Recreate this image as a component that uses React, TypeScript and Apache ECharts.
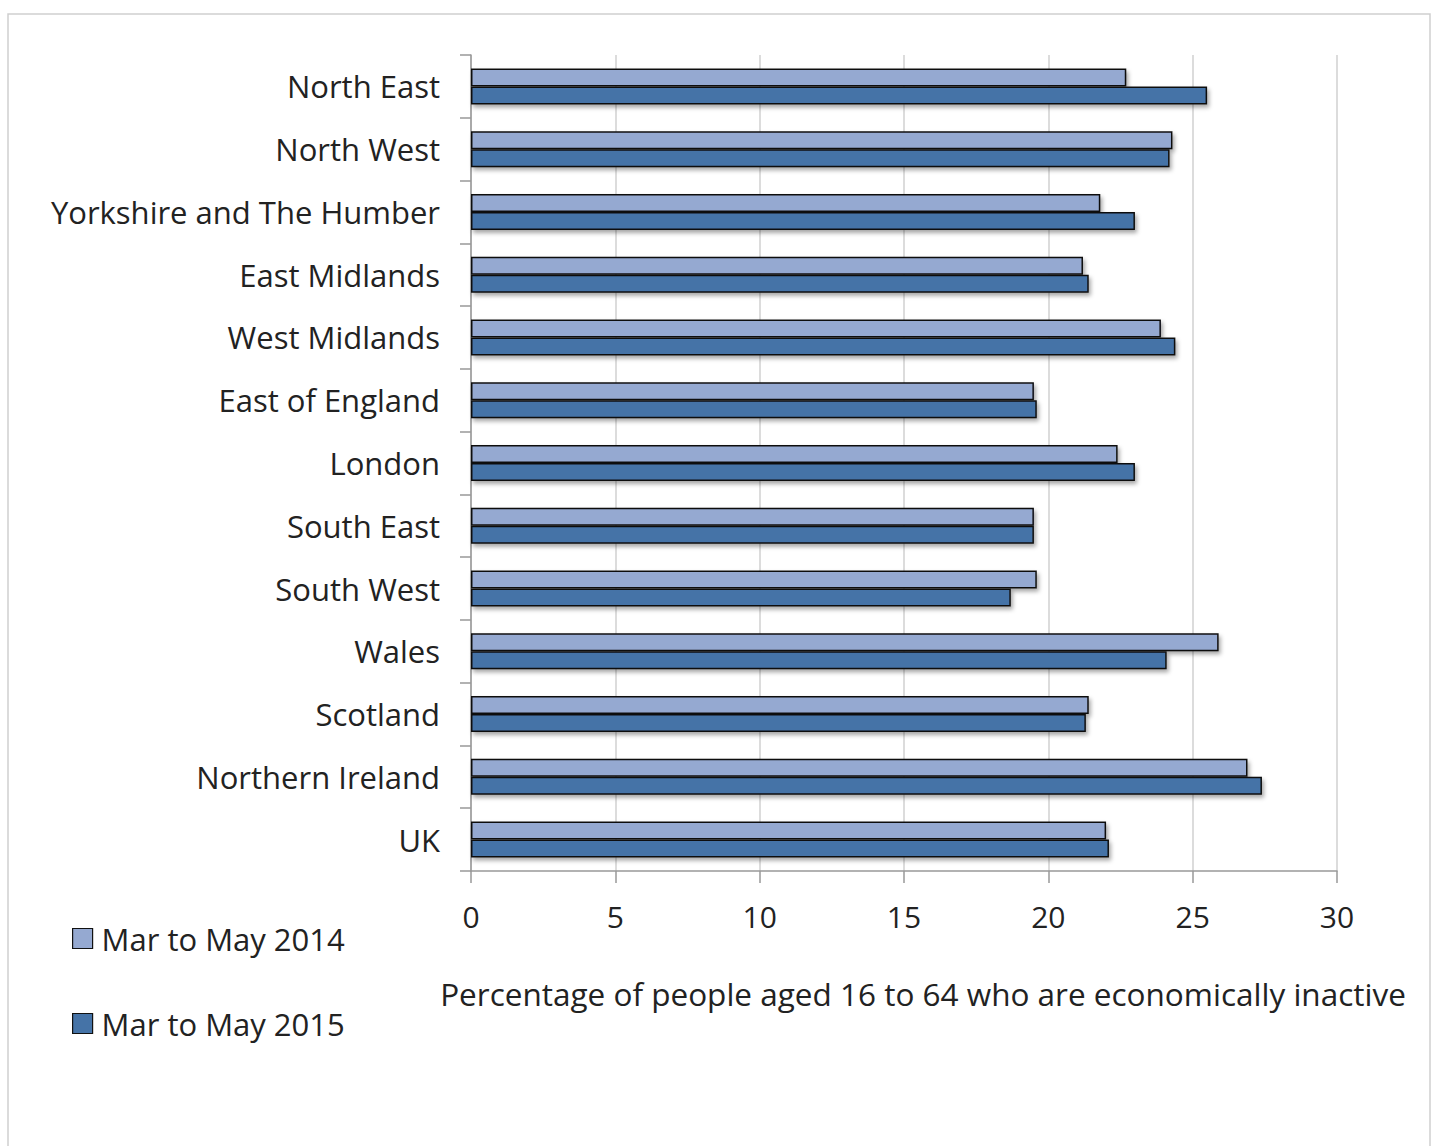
import React, { useEffect, useRef } from "react";
import * as echarts from "echarts";

const categories = [
  "North East",
  "North West",
  "Yorkshire and The Humber",
  "East Midlands",
  "West Midlands",
  "East of England",
  "London",
  "South East",
  "South West",
  "Wales",
  "Scotland",
  "Northern Ireland",
  "UK",
];
const series2014 = [22.7, 24.3, 21.8, 21.2, 23.9, 19.5, 22.4, 19.5, 19.6, 25.9, 21.4, 26.9, 22.0];
const series2015 = [25.5, 24.2, 23.0, 21.4, 24.4, 19.6, 23.0, 19.5, 18.7, 24.1, 21.3, 27.4, 22.1];
const seriesNames = ["Mar to May 2014", "Mar to May 2015"];
const xTicks = { min: 0, max: 30, interval: 5 };
const axisTitle = "Percentage of people aged 16 to 64 who are economically inactive";

const FONT = "'Open Sans', Lato, sans-serif";

export default function App() {
  const ref = useRef<HTMLDivElement>(null);
  useEffect(() => {
    if (!ref.current) return;
    const chart = echarts.init(ref.current, null, { renderer: "svg" });
    const barStyle = (color: string) => ({
      color,
      borderColor: "#111",
      borderWidth: 1.5,
      shadowColor: "rgba(0,0,0,0.35)",
      shadowBlur: 4,
      shadowOffsetX: 2,
      shadowOffsetY: 3,
    });
    chart.setOption({
      animation: false,
      backgroundColor: "#fff",
      textStyle: { fontFamily: FONT },
      grid: { left: 471, right: 96, top: 55, bottom: 275, containLabel: false },
      legend: {
        orient: "vertical",
        left: 67,
        top: 918,
        itemWidth: 20,
        itemHeight: 20,
        itemGap: 54,
        icon: "rect",
        textStyle: { fontSize: 31, color: "#222", fontFamily: FONT, padding: [0, 0, 0, 4] },
        data: seriesNames.map((n) => ({
          name: n,
          itemStyle: { borderColor: "#111", borderWidth: 1.2, shadowBlur: 0, shadowOffsetX: 0, shadowOffsetY: 0 },
        })),
      },
      xAxis: {
        type: "value",
        min: xTicks.min,
        max: xTicks.max,
        interval: xTicks.interval,
        axisLine: { show: true, lineStyle: { color: "#999", width: 1.5 } },
        axisTick: { show: true, length: 12, lineStyle: { color: "#999", width: 1.5 } },
        axisLabel: { fontSize: 30, color: "#222", margin: 30, fontFamily: FONT },
        splitLine: { show: true, lineStyle: { color: "#d0d0d0", width: 1.5 } },
      },
      yAxis: {
        type: "category",
        inverse: true,
        data: categories,
        axisLine: { show: true, lineStyle: { color: "#999", width: 1.5 } },
        axisTick: { show: true, length: 11, lineStyle: { color: "#999", width: 1.5 } },
        axisLabel: { fontSize: 31, color: "#222", margin: 31, fontFamily: FONT },
      },
      series: [
        {
          name: seriesNames[0],
          type: "bar",
          data: series2014,
          barWidth: 18,
          barGap: "0%",
          itemStyle: barStyle("#95a9d1"),
        },
        {
          name: seriesNames[1],
          type: "bar",
          data: series2015,
          barWidth: 18,
          barGap: "0%",
          itemStyle: barStyle("#4573a7"),
        },
      ],
      graphic: [
        {
          type: "rect",
          shape: { x: 8, y: 14, width: 1422, height: 1150 },
          style: { fill: "none", stroke: "#cfcfcf", lineWidth: 1.5 },
          silent: true,
          z: -1,
        },
        {
          type: "text",
          x: 923,
          y: 993,
          style: {
            text: axisTitle,
            fontSize: 31.5,
            fontFamily: FONT,
            fill: "#222",
            align: "center",
            verticalAlign: "middle",
          },
        },
      ],
    });
    return () => chart.dispose();
  }, []);
  return (
    <div
      ref={ref}
      style={{ position: "absolute", left: 0, top: 0, width: 1433, height: 1146 }}
    />
  );
}
